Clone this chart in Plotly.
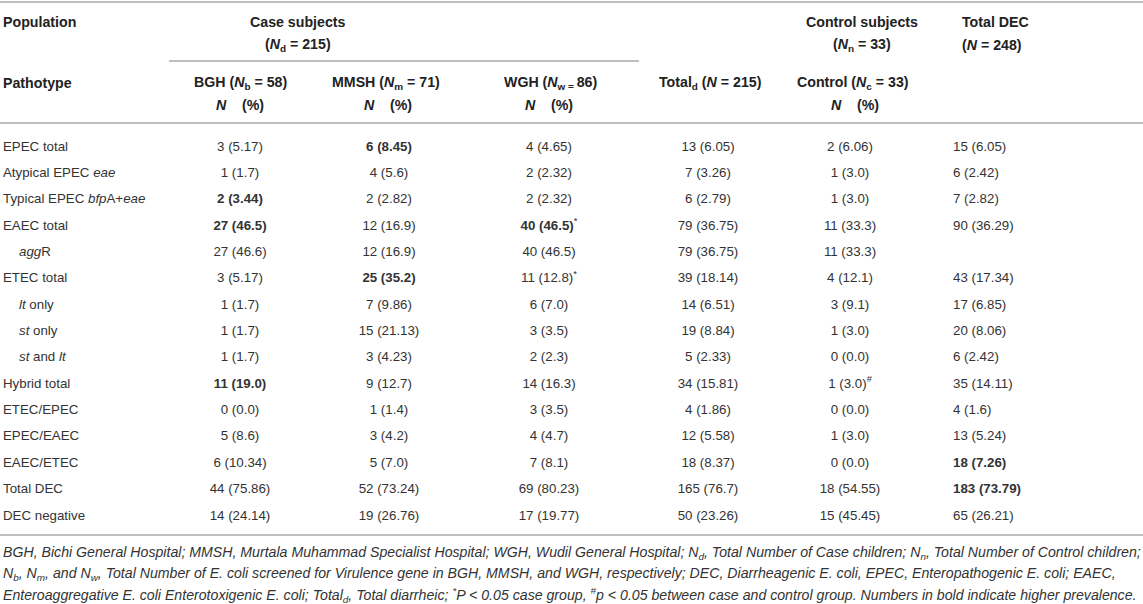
import plotly.graph_objects as go

# rows of the table
pathotypes = ["EPEC total", "Atypical EPEC <i>eae</i>", "Typical EPEC <i>bfp</i>A+<i>eae</i>",
              "EAEC total", "<i>agg</i>R", "ETEC total", "<i>lt</i> only", "<i>st</i> only",
              "<i>st</i> and <i>lt</i>", "Hybrid total", "ETEC/EPEC", "EPEC/EAEC",
              "EAEC/ETEC", "Total DEC", "DEC negative"]
indented = [0, 0, 0, 0, 1, 0, 1, 1, 1, 0, 0, 0, 0, 0, 0]

bgh = ["3 (5.17)", "1 (1.7)", "2 (3.44)", "27 (46.5)", "27 (46.6)", "3 (5.17)", "1 (1.7)",
       "1 (1.7)", "1 (1.7)", "11 (19.0)", "0 (0.0)", "5 (8.6)", "6 (10.34)", "44 (75.86)",
       "14 (24.14)"]
mmsh = ["6 (8.45)", "4 (5.6)", "2 (2.82)", "12 (16.9)", "12 (16.9)", "25 (35.2)", "7 (9.86)",
        "15 (21.13)", "3 (4.23)", "9 (12.7)", "1 (1.4)", "3 (4.2)", "5 (7.0)", "52 (73.24)",
        "19 (26.76)"]
wgh = ["4 (4.65)", "2 (2.32)", "2 (2.32)", "40 (46.5)", "40 (46.5)", "11 (12.8)", "6 (7.0)",
       "3 (3.5)", "2 (2.3)", "14 (16.3)", "3 (3.5)", "4 (4.7)", "7 (8.1)", "69 (80.23)",
       "17 (19.77)"]
total_d = ["13 (6.05)", "7 (3.26)", "6 (2.79)", "79 (36.75)", "79 (36.75)", "39 (18.14)",
           "14 (6.51)", "19 (8.84)", "5 (2.33)", "34 (15.81)", "4 (1.86)", "12 (5.58)",
           "18 (8.37)", "165 (76.7)", "50 (23.26)"]
control = ["2 (6.06)", "1 (3.0)", "1 (3.0)", "11 (33.3)", "11 (33.3)", "4 (12.1)", "3 (9.1)",
           "1 (3.0)", "0 (0.0)", "1 (3.0)", "0 (0.0)", "1 (3.0)", "0 (0.0)", "18 (54.55)",
           "15 (45.45)"]
total_dec = ["15 (6.05)", "6 (2.42)", "7 (2.82)", "90 (36.29)", "", "43 (17.34)", "17 (6.85)",
             "20 (8.06)", "6 (2.42)", "35 (14.11)", "4 (1.6)", "13 (5.24)", "18 (7.26)",
             "183 (73.79)", "65 (26.21)"]

# bold cells (higher prevalence) and significance marks, by row index
bgh_bold = [2, 3, 9]
mmsh_bold = [0, 5]
wgh_bold = [3]
total_dec_bold = [12, 13]
wgh_marks = {3: "*", 5: "*"}
control_marks = {9: "#"}

FONT = "Liberation Sans"
TXT = "#333333"
LINE = "#aaaaaa"
W, H = 1143, 604
row_top, row_h = 147.2, 26.36
row_y = [row_top + i * row_h for i in range(len(pathotypes))]


def cells(values, bold=(), marks=None):
    out = []
    for i, v in enumerate(values):
        s = f"<b>{v}</b>" if i in bold else v
        if marks and i in marks:
            s += f"<sup>{marks[i]}</sup>"
        out.append(s)
    return out


fig = go.Figure()

# row labels
fig.add_trace(go.Scatter(
    x=[19 if ind else 3 for ind in indented], y=row_y, text=pathotypes,
    mode="text", textposition="middle right",
    textfont=dict(family=FONT, size=13.3, color=TXT), hoverinfo="skip"))

columns = [
    (240, cells(bgh, bgh_bold), "middle center"),
    (389, cells(mmsh, mmsh_bold), "middle center"),
    (549, cells(wgh, wgh_bold, wgh_marks), "middle center"),
    (708, cells(total_d), "middle center"),
    (850, cells(control, marks=control_marks), "middle center"),
    (953, cells(total_dec, total_dec_bold), "middle right"),
]
for cx, txt, pos in columns:
    fig.add_trace(go.Scatter(
        x=[cx] * len(txt), y=row_y, text=txt, mode="text", textposition=pos,
        textfont=dict(family=FONT, size=13.3, color=TXT), hoverinfo="skip"))

sp = "\u00a0"
headers = [
    ("<b>Population</b>", 1, 22, "left"),
    ("<b>Case subjects</b>", 298, 22, "center"),
    ("<b>(<i>N</i><sub>d</sub> = 215)</b>", 298, 45, "center"),
    ("<b>Control subjects</b>", 862, 22, "center"),
    ("<b>(<i>N</i><sub>n</sub> = 33)</b>", 862, 45, "center"),
    ("<b>Total DEC</b>", 960, 22, "left"),
    ("<b>(<i>N</i> = 248)</b>", 960, 45, "left"),
    ("<b>Pathotype</b>", 1, 83, "left"),
    ("<b>BGH (<i>N</i><sub>b</sub> = 58)</b>", 240, 83, "center"),
    (f"<b><i>N</i>{sp*4}(%)</b>", 240, 105, "center"),
    ("<b>MMSH (<i>N</i><sub>m</sub> = 71)</b>", 386, 83, "center"),
    (f"<b><i>N</i>{sp*4}(%)</b>", 388, 105, "center"),
    ("<b>WGH (<i>N</i><sub>w = </sub>86)</b>", 550, 83, "center"),
    (f"<b><i>N</i>{sp*4}(%)</b>", 549, 105, "center"),
    ("<b>Total<sub>d</sub> (<i>N</i> = 215)</b>", 710, 83, "center"),
    ("<b>Control (<i>N</i><sub>c</sub> = 33)</b>", 853, 83, "center"),
    (f"<b><i>N</i>{sp*4}(%)</b>", 855, 105, "center"),
]
annotations = [dict(text=t, x=x, y=y, xref="x", yref="y", xanchor=a, yanchor="middle",
                    showarrow=False, font=dict(family=FONT, size=14.2, color="#222222"))
               for t, x, y, a in headers]

notes = [
    "BGH, Bichi General Hospital; MMSH, Murtala Muhammad Specialist Hospital; WGH, Wudil General "
    "Hospital; N<sub>d</sub>, Total Number of Case children; N<sub>n</sub>, Total Number of "
    "Control children;",
    "N<sub>b</sub>, N<sub>m</sub>, and N<sub>w</sub>, Total Number of E. coli screened for "
    "Virulence gene in BGH, MMSH, and WGH, respectively; DEC, Diarrheagenic E. coli, EPEC, "
    "Enteropathogenic E. coli; EAEC,",
    "Enteroaggregative E. coli Enterotoxigenic E. coli; Total<sub>d</sub>, Total diarrheic; "
    "<sup>*</sup>P &lt; 0.05 case group, <sup>#</sup>p &lt; 0.05 between case and control group. "
    "Numbers in bold indicate higher prevalence.",
]
for t, y in zip(notes, [553, 574, 595]):
    annotations.append(dict(text=f"<i>{t}</i>", x=1, y=y, xref="x", yref="y", xanchor="left",
                            yanchor="middle", showarrow=False,
                            font=dict(family=FONT, size=14.15, color=TXT)))

shapes = [dict(type="line", x0=x0, x1=x1, y0=y, y1=y, xref="x", yref="y",
               line=dict(color=LINE, width=1.6))
          for x0, x1, y in [(0, W, 2), (169, 639, 61), (0, W, 123), (0, W, 535)]]

fig.update_layout(
    width=W, height=H, margin=dict(l=0, r=0, t=0, b=0),
    paper_bgcolor="white", plot_bgcolor="white", showlegend=False,
    xaxis=dict(range=[0, W], visible=False, fixedrange=True),
    yaxis=dict(range=[H, 0], visible=False, fixedrange=True),
    annotations=annotations, shapes=shapes,
)

# page body has a default 8px margin; drop it so the figure fills the window
fig.write_html("out.html", config={"displayModeBar": False},
               post_script="document.body.style.margin = '0';")
